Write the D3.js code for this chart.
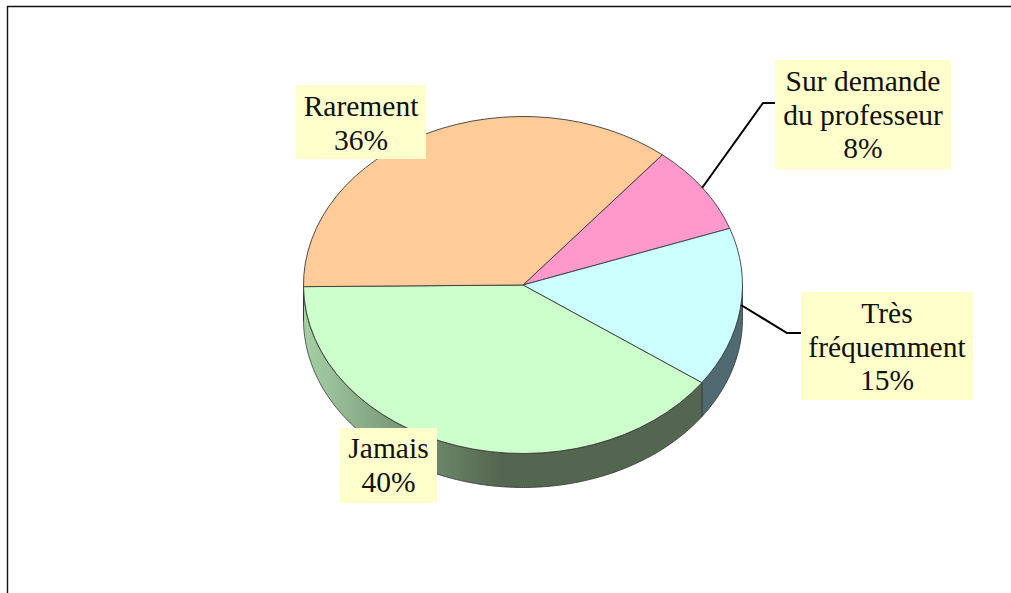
<!DOCTYPE html>
<html>
<head>
<meta charset="utf-8">
<script src="https://cdn.jsdelivr.net/npm/d3@7"></script>
<style>
  html, body { margin: 0; padding: 0; background: #fff; overflow: hidden; }
  text { font-family: "Liberation Serif", serif; font-size: 29.5px; fill: #111; text-anchor: middle; }
</style>
</head>
<body>
<svg id="PieChart" width="1011" height="593"></svg>
<script>
const categories = ["Sur demande du professeur", "Très fréquemment", "Jamais", "Rarement"];
const shares = [8.6, 15.3, 40, 36.1];
const percentLabels = ["8%", "15%", "40%", "36%"];
const labelLines = [["Sur demande", "du professeur"], ["Très", "fréquemment"], ["Jamais"], ["Rarement"]];
const topColors = ["#ff99cc", "#ccffff", "#ccffcc", "#ffcc99"];

const cx = 523, cy = 285, rx = 219.5, ry = 168.5, depth = 34;
const startDeg = 39.4;

// label boxes: x, y, w, h, first baseline
const boxes = [
  { x: 775, y: 60, w: 176, h: 109, base: 91 },
  { x: 801, y: 292, w: 172, h: 108, base: 323 },
  { x: 340, y: 428, w: 97, h: 75, base: 458 },
  { x: 296, y: 85, w: 130, h: 74, base: 116 }
];
const lineStep = 33.5;

const svg = d3.select("#PieChart");

// frame, open on the right and bottom
svg.append("path")
  .attr("d", "M7.5,593V6.5H1011")
  .attr("fill", "none")
  .attr("stroke", "#111")
  .attr("stroke-width", 1.4);

const defs = svg.append("defs");
const wallGrad = defs.append("linearGradient")
  .attr("id", "wallGreen")
  .attr("gradientUnits", "userSpaceOnUse")
  .attr("x1", 303).attr("x2", 500).attr("y1", 0).attr("y2", 0);
wallGrad.append("stop").attr("offset", 0).attr("stop-color", "#a6d0a6");
wallGrad.append("stop").attr("offset", 0.45).attr("stop-color", "#7d9c7b");
wallGrad.append("stop").attr("offset", 1).attr("stop-color", "#53664f");

const wallFill = ["#4f6a70", "#4f6a70", "url(#wallGreen)", "#a6805c"];

const pie = d3.pie()
  .sort(null)
  .value(d => d)
  .startAngle(startDeg * Math.PI / 180)
  .endAngle((startDeg + 360) * Math.PI / 180);
const slices = pie(shares);

// side walls, only the part facing the viewer
const wallArea = d3.area()
  .x(a => cx + rx * Math.sin(a))
  .y0(a => cy - ry * Math.cos(a))
  .y1(a => cy - ry * Math.cos(a) + depth);

slices.forEach((s, i) => {
  const a0 = Math.max(s.startAngle, Math.PI / 2);
  const a1 = Math.min(s.endAngle, 3 * Math.PI / 2);
  if (a1 <= a0) return;
  const angles = d3.range(a0, a1, 0.01).concat([a1]);
  svg.append("path")
    .attr("d", wallArea(angles))
    .attr("fill", wallFill[i])
    .attr("stroke", "#333")
    .attr("stroke-width", 0.8);
});

// top of the pie
const arc = d3.arc().innerRadius(0).outerRadius(rx);
svg.append("g")
  .attr("transform", `translate(${cx},${cy}) scale(1,${ry / rx})`)
  .selectAll("path")
  .data(slices)
  .enter()
  .append("path")
  .attr("d", arc)
  .attr("fill", (d, i) => topColors[i])
  .attr("stroke", "#3a3a3a")
  .attr("stroke-width", 0.9)
  .attr("vector-effect", "non-scaling-stroke");

// leader lines
const leaders = [
  [[702, 188], [763, 103], [775, 103]],
  [[741, 305], [787, 333], [801, 333]]
];
const leaderLine = d3.line();
leaders.forEach(pts => {
  svg.append("path")
    .attr("d", leaderLine(pts))
    .attr("fill", "none")
    .attr("stroke", "#000")
    .attr("stroke-width", 2);
});

// labels
categories.forEach((c, i) => {
  const b = boxes[i];
  const g = svg.append("g").attr("class", "pieLabel");
  g.append("rect")
    .attr("x", b.x).attr("y", b.y)
    .attr("width", b.w).attr("height", b.h)
    .attr("fill", "#ffffcc");
  labelLines[i].concat([percentLabels[i]]).forEach((t, j) => {
    g.append("text")
      .attr("x", b.x + b.w / 2)
      .attr("y", b.base + j * lineStep)
      .text(t);
  });
});
</script>
</body>
</html>
